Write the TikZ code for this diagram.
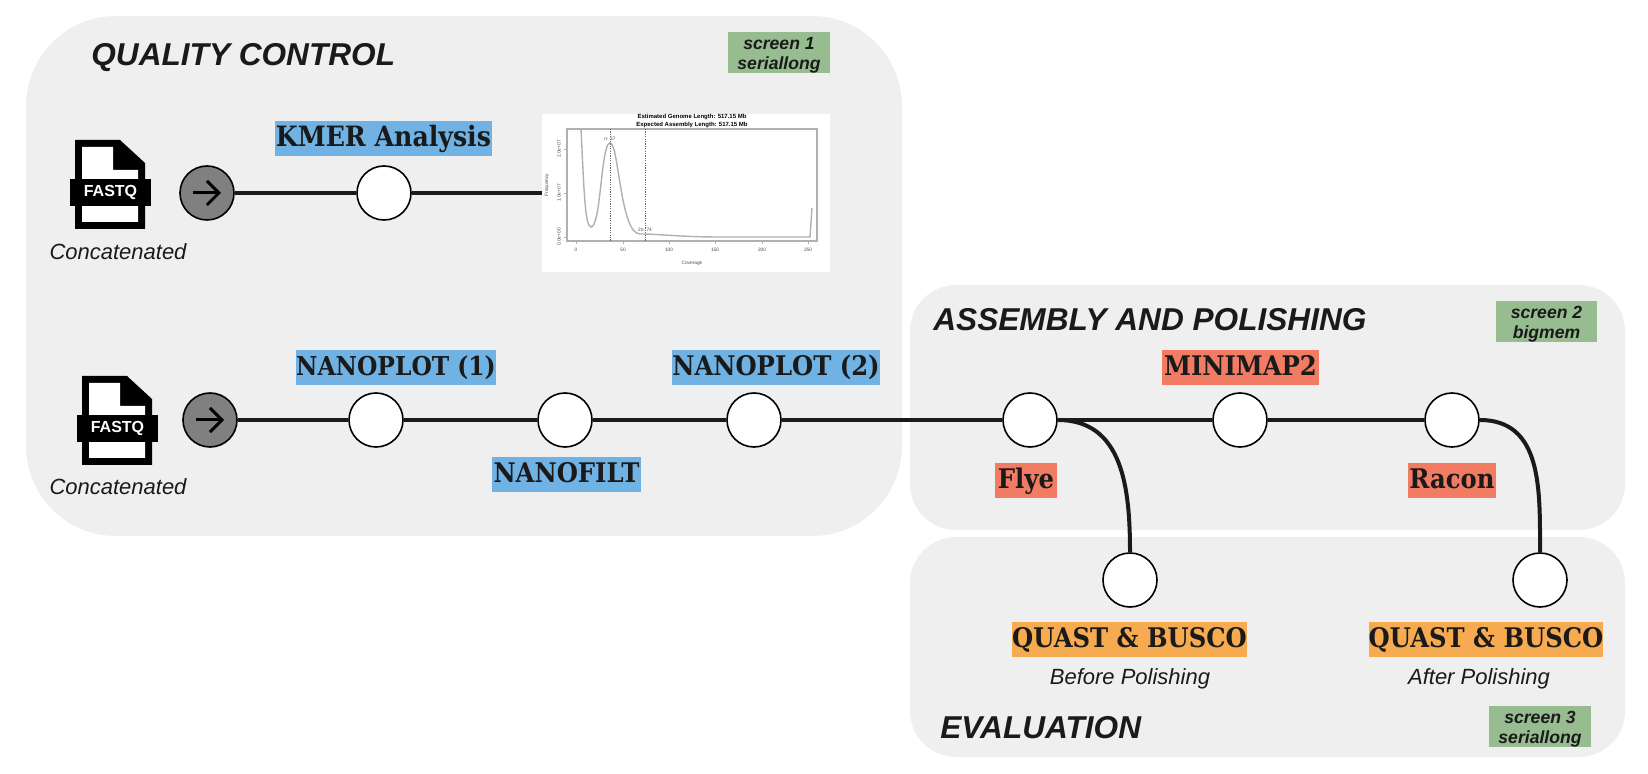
\documentclass[tikz,border=0pt]{standalone}
\usepackage{fontspec}
\setmainfont{Liberation Sans}
\newfontfamily\slabfont{DejaVu Serif Condensed}
\usepackage{xcolor}
\definecolor{panelgrey}{HTML}{EFEFEF}
\definecolor{trackdark}{HTML}{1A1A1A}
\definecolor{tagblue}{HTML}{70B2E3}
\definecolor{tagred}{HTML}{F17B63}
\definecolor{tagorange}{HTML}{F7AB50}
\definecolor{taggreen}{HTML}{97BC90}
\definecolor{startgrey}{HTML}{808080}
\definecolor{plotgrey}{HTML}{B0B0B0}
\usetikzlibrary{arrows.meta, positioning}
\newcommand{\tagfont}[1]{\slabfont\bfseries\fontsize{#1}{14}\selectfont}
\tikzset{
  panel/.style={fill=panelgrey},
  stopnode/.style={circle, draw=black, fill=white, line width=0.8pt, minimum size=54*0.5pt, inner sep=0pt},
  trackline/.style={trackdark, line width=2pt},
  steptag/.style={font=\tagfont{13.5}, text=trackdark, inner sep=0pt,
    minimum height=17.5pt, text height=10.5pt, text depth=2.5pt},
  screentag/.style={fill=taggreen, inner sep=0pt, minimum height=20.5pt},
  screenlabel/.style={font=\bfseries\itshape\fontsize{8.8}{10}\selectfont, text=trackdark,
    align=center, inner sep=0pt, yshift=-1.5pt},
  paneltitle/.style={font=\bfseries\itshape\fontsize{15.8}{16}\selectfont, text=trackdark, anchor=west, inner sep=0pt},
  note/.style={font=\itshape\fontsize{11}{11}\selectfont, text=trackdark, inner sep=0pt},
  plotnum/.style={font=\fontsize{2.4}{2.4}\selectfont, text=black!70, inner sep=0pt},
}
\newcommand{\fastqicon}[3]{% name, x-left, y-top
  \fill[black] (#2,#3) -- (#2+45,#3) -- (#2+70,#3+23) -- (#2+70,#3+89) -- (#2,#3+89) -- cycle;
  \fill[white] (#2+7,#3+7) -- (#2+38,#3+7) -- (#2+38,#3+30) -- (#2+63,#3+30) -- (#2+63,#3+82) -- (#2+7,#3+82) -- cycle;
  \node[fill=black, text=white, font=\bfseries\fontsize{8}{8}\selectfont, inner sep=0pt,
    minimum width=40.5pt, minimum height=13.5pt] (#1) at (#2+35.5,#3+52.5) {FASTQ};
}
\newcommand{\startnode}[3]{% name, x, y
  \node[stopnode, fill=startgrey] (#1) at (#2,#3) {};
  \draw[black, line width=1.5pt, -{Straight Barb[length=6pt,width=12pt]}] (#2-14,#3) -- (#2+14,#3);
}

\begin{document}
\begin{tikzpicture}[x=0.5pt, y=-0.5pt]
  \useasboundingbox (0,0) rectangle (1648,774);

  % panels
  \fill[panel, rounded corners=45pt] (26,16) rectangle (902,536);
  \fill[panel, rounded corners=23pt] (910,285) rectangle (1625,530);
  \fill[panel, rounded corners=23pt] (910,537) rectangle (1625,757);

  \node[paneltitle] (qctitle) at (91,58) {QUALITY CONTROL};
  \node[paneltitle] (asmtitle) at (933,320) {ASSEMBLY AND POLISHING};
  \node[paneltitle] (evaltitle) at (940,728) {EVALUATION};

  \node[screentag, minimum width=51pt, label={[screenlabel]center:{screen 1\\seriallong}}] (screenone) at (779,52.5) {};
  \node[screentag, minimum width=50.5pt, label={[screenlabel]center:{screen 2\\bigmem}}] (screentwo) at (1546.5,321.5) {};
  \node[screentag, minimum width=51pt, label={[screenlabel]center:{screen 3\\seriallong}}] (screenthree) at (1540,726) {};

  % input files
  \fastqicon{fastqa}{75}{140}
  \fastqicon{fastqb}{82}{376}
  \node[note] (concata) at (118,252) {Concatenated};
  \node[note] (concatb) at (118,487) {Concatenated};

  % kmer plot
  \node[fill=white, inner sep=0pt, minimum width=144pt, minimum height=79pt] (plotbox) at (686,193) {};
  \draw[plotgrey, line width=0.7pt] (567,129) rectangle (817,241);
  \draw[plotgrey, line width=0.7pt] (581,129) .. controls (584,190) and (585,227) .. (591,227)
    .. controls (601,227) and (601,143) .. (610,143)
    .. controls (619,143) and (620,234) .. (640,234)
    .. controls (660,234) and (680,237) .. (720,237) -- (810,237) -- (812,208);
  \draw[black!60, dash pattern=on 0.6pt off 0.6pt, line width=0.25pt] (610,129) -- (610,241) (645,129) -- (645,241);
  \foreach \i/\xpos in {0/576,50/623,100/669,150/715,200/762,250/808} {
    \draw[plotgrey, line width=0.3pt] (\xpos,241) -- (\xpos,244);
    \node[plotnum] (xtick\i) at (\xpos,250) {\i};
  }
  \foreach \t/\ypos in {0.0e+00/237,1.0e+07/193,2.0e+07/149} {
    \draw[plotgrey, line width=0.3pt] (567,\ypos) -- (564,\ypos);
    \node[plotnum, rotate=90] (ytick\ypos) at (559,\ypos) {\t};
  }
  \node[plotnum, rotate=90] (ylabel) at (547,185) {Frequency};
  \node[plotnum] (xlabel) at (692,263) {Coverage};
  \node[plotnum] (peakone) at (610,139) {n: 37};
  \node[plotnum] (peaktwo) at (645,230) {2n: 74};
  \node[font=\bfseries\fontsize{3}{3.9}\selectfont, align=center, inner sep=0pt] (plottitle) at (692,121)
    {Estimated Genome Length: 517.15 Mb\\Expected Assembly Length: 517.15 Mb};

  % stops
  \startnode{starta}{207}{193}
  \startnode{startb}{210}{420}
  \node[stopnode] (kmer) at (384,193) {};
  \node[stopnode] (plotone) at (376,420) {};
  \node[stopnode] (filt) at (565,420) {};
  \node[stopnode] (plottwo) at (754,420) {};
  \node[stopnode] (flye) at (1030,420) {};
  \node[stopnode] (minimap) at (1240,420) {};
  \node[stopnode] (racon) at (1452,420) {};
  \node[stopnode] (evalone) at (1130,580) {};
  \node[stopnode] (evaltwo) at (1540,580) {};

  % tracks
  \draw[trackline] (starta) -- (kmer);
  \draw[trackline] (kmer) -- (plotbox);
  \draw[trackline] (startb) -- (plotone);
  \draw[trackline] (plotone) -- (filt);
  \draw[trackline] (filt) -- (plottwo);
  \draw[trackline] (plottwo) -- (flye);
  \draw[trackline] (flye) -- (minimap);
  \draw[trackline] (minimap) -- (racon);
  \draw[trackline] (flye.east) to[out=0, in=90, looseness=1.1] (evalone.north);
  \draw[trackline] (racon.east) to[out=0, in=90, looseness=1.1] (evaltwo.north);

  % labels
  \node[steptag, fill=tagblue, font=\tagfont{14}, minimum width=108.5pt] (kmertag) at (383.5,139) {KMER Analysis};
  \node[steptag, fill=tagblue, font=\tagfont{13}, minimum width=100pt] (plotonetag) at (396,368) {NANOPLOT (1)};
  \node[steptag, fill=tagblue, minimum width=74.5pt] (filttag) at (566.5,475) {NANOFILT};
  \node[steptag, fill=tagblue, minimum width=103pt] (plottwotag) at (776,368) {NANOPLOT (2)};
  \node[steptag, fill=tagred, minimum width=78.5pt] (minimaptag) at (1240.5,368) {MINIMAP2};
  \node[steptag, fill=tagred, minimum width=31pt] (flyetag) at (1026,481) {Flye};
  \node[steptag, fill=tagred, minimum width=44pt] (racontag) at (1452,481) {Racon};
  \node[steptag, fill=tagorange, minimum width=116.5pt] (evalonetag) at (1129.5,639.5) {QUAST \& BUSCO};
  \node[steptag, fill=tagorange, minimum width=116pt] (evaltwotag) at (1486,639.5) {QUAST \& BUSCO};
  \node[note] (beforenote) at (1130,679) {Before Polishing};
  \node[note] (afternote) at (1479,679) {After Polishing};
\end{tikzpicture}
\end{document}
